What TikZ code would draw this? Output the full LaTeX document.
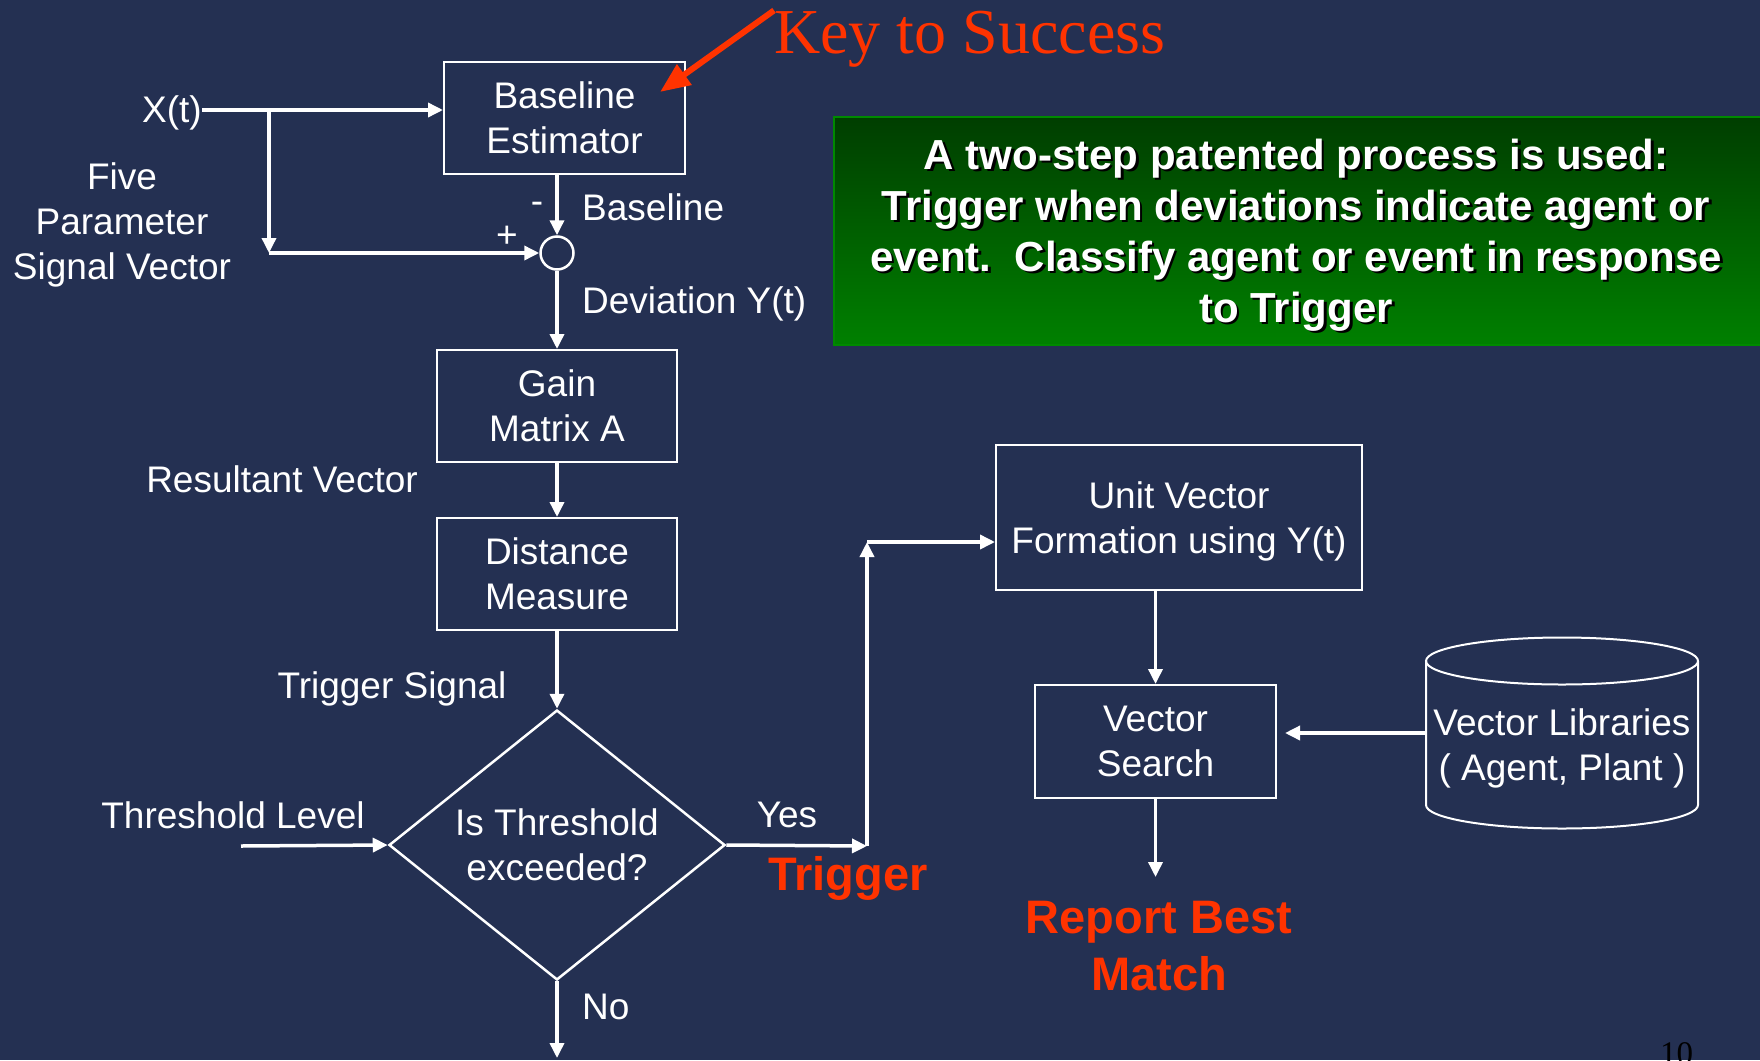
\documentclass[tikz,border=0pt]{standalone}
\usepackage{fontspec}
\setmainfont{Liberation Sans}
\newfontfamily\seriffam{Liberation Serif}
\usetikzlibrary{shapes.geometric,arrows.meta,calc}
\definecolor{bgnavy}{HTML}{243052}
\definecolor{keyred}{HTML}{FF3300}
\definecolor{gtop}{HTML}{003E00}
\definecolor{gbot}{HTML}{008000}
\definecolor{gborder}{HTML}{008A00}
\newcommand\greentext{A two-step patented process is used:\\Trigger when deviations indicate agent or\\event.\ \ Classify agent or event in response\\to Trigger}
\begin{document}
\begin{tikzpicture}[x=1pt,y=-1pt,
  every node/.style={text=white, font=\fontsize{37}{45}\selectfont, inner sep=0pt, align=center},
  blk/.style={draw=white, line width=2pt, rectangle},
  conn/.style={draw=white, line width=3.5pt, -{Triangle[length=15pt,width=14pt]}},
  redlbl/.style={text=keyred, font=\bfseries\fontsize{47}{57}\selectfont},
  gtxt/.style={font=\bfseries\fontsize{42}{51}\selectfont}
]
\fill[bgnavy] (0,0) rectangle (1760,1060);
\useasboundingbox (0,0) rectangle (1760,1060);

% green box
\node[draw=gborder, line width=2pt, top color=gtop, bottom color=gbot,
      minimum width=929, minimum height=228, anchor=north west] (gbox) at (833,116) {};
\node[gtxt, text=black] at (1298.5,237.5) {\greentext};
\node[gtxt] (gt) at (1296,235) {\greentext};

% key to success
\node[anchor=base west, font=\seriffam\fontsize{64}{70}\selectfont, text=keyred] (key) at (774,53) {Key to Success};
\coordinate (ktip) at (660,92);

% blocks
\node[blk, minimum width=241, minimum height=112] (base) at (564.5,118) {Baseline\\Estimator};
\node[circle, draw=white, line width=2.5pt, minimum size=33] (sum) at (557,253) {};
\node[blk, minimum width=240, minimum height=112] (gain) at (557,406) {Gain\\Matrix A};
\node[blk, minimum width=240, minimum height=112] (dist) at (557,574) {Distance\\Measure};
\node[diamond, draw=white, line width=2.5pt, aspect=1.244, minimum width=336, minimum height=270] (dec) at (557,845) {Is Threshold\\exceeded?};
\node[blk, minimum width=366, minimum height=145] (unit) at (1179,517.5) {};
\node (unittxt) at (1179,521) {Unit Vector\\Formation using Y(t)};
\node[blk, minimum width=241, minimum height=113] (vs) at (1155.5,741.5) {Vector\\Search};

% cylinder
\draw[white, line width=2pt] (1426,661) -- (1426,805) arc[start angle=180, end angle=0, x radius=136, y radius=23.5] -- (1698,661);
\draw[white, line width=2pt] (1562,661) ellipse [x radius=136, y radius=23.5];
\node (lib) at (1562,748) {Vector Libraries\\( Agent, Plant )};
\coordinate (libw) at (1426,733);

% labels
\node[anchor=east] (xt) at (202,113) {X(t)};
\node (five) at (122,225) {Five\\Parameter\\Signal Vector};
\node (plus) at (507,237) {+};
\node (minus) at (537,208) {-};
\node[anchor=west] (bl) at (582,207) {Baseline};
\node[anchor=west] (dev) at (582,304) {Deviation Y(t)};
\node (res) at (282,479) {Resultant Vector};
\node (ts) at (392,689) {Trigger Signal};
\node (thr) at (233,815) {Threshold Level};
\node (yes) at (787,815) {Yes};
\node[redlbl] (trig) at (848,878) {Trigger};
\node[anchor=west] (no) at (582,1007) {No};
\node[redlbl] (rep) at (1159,946) {Report Best\\Match};
\node[anchor=base west, font=\seriffam\fontsize{33}{33}\selectfont, text=black] (pg) at (1660,1064) {10};

% coordinates
\coordinate (br) at (269,110);
\coordinate (thrs) at (241,846);
\coordinate (c1) at (867,846);
\coordinate (c2) at (867,542);
\coordinate (noend) at (557,1058);
\coordinate (repin) at (1155.5,877);

% connectors
\draw[keyred, line width=6pt, -{Triangle[length=30pt,width=24pt]}] (key.north west) -- (ktip);
\draw[conn] (xt.east |- br) -- (br -| base.west);
\draw[conn] (br) -- (br |- sum);
\draw[conn] (br |- sum) -- (sum.west);
\draw[conn] (base.south -| sum) -- (sum.north);
\draw[conn] (sum.south) -- (gain.north);
\draw[conn] (gain) -- (dist);
\draw[conn] (dist) -- (dec);
\draw[conn] (thrs) -- (dec.west);
\draw[conn] (dec.east) -- (c1);
\draw[conn] (c1) -- (c2);
\draw[conn] (c2) -- (c2 -| unit.west);
\draw[conn] (dec.south) -- (noend);
\draw[conn] (vs.north |- unit.south) -- (vs.north);
\draw[conn] (libw) -- ([xshift=8pt]libw -| vs.east);
\draw[conn] (vs.south) -- (repin);
\end{tikzpicture}
\end{document}
